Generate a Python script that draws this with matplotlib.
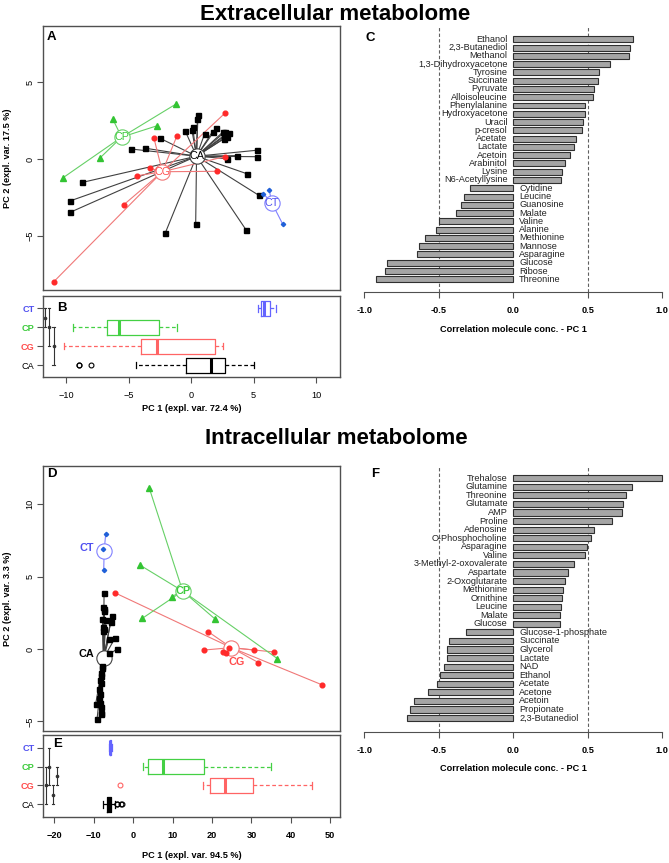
import matplotlib.pyplot as plt
import numpy as np

plt.rcParams['font.family'] = ['Liberation Sans', 'DejaVu Sans']

# ---- Extracellular PCA scores (PC1, PC2) ----
ca_ext_pc1 = [0.52, 0.47, 0.12, 0.07, -0.44, 1.01, 1.60, 1.88, 2.35, 2.54, 2.84, 2.44, 2.64, 2.44, -2.30,
              -4.44, -3.38, 4.89, 4.89, 3.38, 2.69, 4.15, 5.01, -8.05, -8.94, -8.94, -1.90, 0.35, 4.10]
ca_ext_pc2 = [2.89, 2.61, 2.09, 1.87, 1.85, 1.63, 1.78, 2.00, 1.74, 1.78, 1.70, 1.52, 1.43, 1.33, 1.35,
              0.65, 0.70, 0.57, 0.15, 0.22, 0.02, -0.96, -2.35, -1.52, -2.72, -3.46, -4.80, -4.22, -4.63]
cg_ext_pc1 = [2.52, -1.04, -2.74, 2.49, -3.06, -4.00, 1.90, -4.96, -10.17]
cg_ext_pc2 = [2.98, 1.50, 1.35, 0.15, -0.59, -1.09, -0.80, -2.96, -7.98]
cp_ext_pc1 = [-1.11, -5.78, -2.54, -6.77, -9.48]
cp_ext_pc2 = [3.57, 2.57, 2.15, 0.04, -1.22]
ct_ext_pc1 = [5.36, 5.80, 6.79]
ct_ext_pc2 = [-2.26, -2.02, -4.22]

# ---- Intracellular PCA scores ----
ca_int_pc1 = [-5.81, -5.97, -5.81, -5.73, -4.00, -6.21, -5.34, -4.24, -6.13, -5.73, -5.97, -3.22, -4.71,
              -2.75, -4.63, -6.29, -6.37, -6.44, -6.52, -6.76, -6.60, -6.90, -6.84, -7.07, -6.76, -7.78,
              -6.60, -6.60, -6.60, -7.46]
ca_int_pc2 = [3.89, 2.93, 2.74, 2.60, 2.26, 2.10, 2.00, 1.84, 1.54, 1.38, 1.24, 0.76, 0.67,
              0.00, -0.25, -1.18, -1.34, -1.64, -1.90, -2.14, -2.37, -2.75, -3.10, -3.41, -3.76, -3.80,
              -3.99, -4.40, -4.52, -4.84]
cg_int_pc1 = [-3.30, 18.70, 17.84, 22.32, 22.87, 23.73, 29.47, 34.26, 30.57, 45.50]
cg_int_pc2 = [3.89, 1.20, -0.07, -0.23, -0.28, 0.09, -0.07, -0.21, -0.94, -2.47]
cp_int_pc1 = [4.87, 2.59, 3.22, 10.14, 20.43, 35.05]
cp_int_pc2 = [11.10, 5.81, 2.12, 3.62, 2.05, -0.67]
ct_int_pc1 = [-5.42, -6.05, -5.89]
ct_int_pc2 = [7.97, 6.89, 5.46]

# significance brackets next to the boxplots: x, from group, to group
b_br_x = [-11.7, -11.36, -11.0]
b_br_from = [4, 4, 3]
b_br_to = [3, 2, 1]
e_br_x = [-22.2, -21.3, -20.3, -19.4]
e_br_from = [3, 4, 2, 3]
e_br_to = [1, 2, 1, 2]

# ---- Correlations with PC1 ----
ext_names = ['Ethanol', '2,3-Butanediol', 'Methanol', '1,3-Dihydroxyacetone', 'Tyrosine', 'Succinate',
             'Pyruvate', 'Alloisoleucine', 'Phenylalanine', 'Hydroxyacetone', 'Uracil', 'p-cresol',
             'Acetate', 'Lactate', 'Acetoin', 'Arabinitol', 'Lysine', 'N6-Acetyllysine', 'Cytidine',
             'Leucine', 'Guanosine', 'Malate', 'Valine', 'Alanine', 'Methionine', 'Mannose',
             'Asparagine', 'Glucose', 'Ribose', 'Threonine']
ext_corr = [0.805, 0.783, 0.779, 0.651, 0.577, 0.566, 0.539, 0.532, 0.479, 0.479, 0.468, 0.459,
            0.418, 0.407, 0.383, 0.345, 0.329, 0.318, -0.291, -0.333, -0.353, -0.387, -0.499, -0.517,
            -0.591, -0.633, -0.644, -0.850, -0.859, -0.924]
int_names = ['Trehalose', 'Glutamine', 'Threonine', 'Glutamate', 'AMP', 'Proline', 'Adenosine',
             'O-Phosphocholine', 'Asparagine', 'Valine', '3-Methyl-2-oxovalerate', 'Aspartate',
             '2-Oxoglutarate', 'Methionine', 'Ornithine', 'Leucine', 'Malate', 'Glucose',
             'Glucose-1-phosphate', 'Succinate', 'Glycerol', 'Lactate', 'NAD', 'Ethanol', 'Acetate',
             'Acetone', 'Acetoin', 'Propionate', '2,3-Butanediol']
int_corr = [1.0, 0.799, 0.754, 0.736, 0.732, 0.664, 0.544, 0.523, 0.497, 0.483, 0.409, 0.369,
            0.349, 0.336, 0.329, 0.318, 0.315, 0.315, -0.315, -0.434, -0.443, -0.445, -0.463, -0.494,
            -0.510, -0.573, -0.669, -0.691, -0.711]

groups = ['CA', 'CG', 'CP', 'CT']
ext = {'CA': (ca_ext_pc1, ca_ext_pc2), 'CG': (cg_ext_pc1, cg_ext_pc2),
       'CP': (cp_ext_pc1, cp_ext_pc2), 'CT': (ct_ext_pc1, ct_ext_pc2)}
intra = {'CA': (ca_int_pc1, ca_int_pc2), 'CG': (cg_int_pc1, cg_int_pc2),
         'CP': (cp_int_pc1, cp_int_pc2), 'CT': (ct_int_pc1, ct_int_pc2)}

pt_col = {'CA': 'black', 'CG': '#FF2A2A', 'CP': '#33C433', 'CT': '#2060D8'}
line_col = {'CA': '#404040', 'CG': '#F07878', 'CP': '#66D066', 'CT': '#8080FF'}
box_col = {'CA': 'black', 'CG': '#FF6464', 'CP': '#44D044', 'CT': '#6464FF'}
lab_col = {'CA': 'black', 'CG': '#FF4B4B', 'CP': '#3CCB3C', 'CT': '#5050F0'}
markers = {'CA': 's', 'CG': 'o', 'CP': '^', 'CT': 'D'}
msize = {'CA': 3.6, 'CG': 3.4, 'CP': 3.8, 'CT': 2.2}
spine_col = '#505050'

W, H = 669, 863
fig = plt.figure(figsize=(W / 100, H / 100), dpi=100)


def add_px(x0, y0, x1, y1):
    return fig.add_axes([x0 / W, 1 - y1 / H, (x1 - x0) / W, (y1 - y0) / H])


def frame(ax):
    for s in ax.spines.values():
        s.set_color(spine_col)
        s.set_linewidth(1.0)
    ax.tick_params(length=4, width=0.8, color=spine_col, labelsize=6.6, pad=2)


def spider(ax, data, offsets, bold):
    for g in groups:
        x, y = np.array(data[g][0]), np.array(data[g][1])
        cx, cy = x.mean(), y.mean()
        for xi, yi in zip(x, y):
            ax.plot([cx, xi], [cy, yi], color=line_col[g], lw=0.8, zorder=2)
        ax.plot(x, y, ls='none', marker=markers[g], ms=msize[g], color=pt_col[g], zorder=4)
        ax.plot(cx, cy, marker='o', ms=11, mfc='white', mec=line_col[g], mew=0.8, zorder=3)
        dx, dy, ha = offsets[g]
        ax.annotate(g, (cx, cy), xytext=(dx, dy), textcoords='offset points', ha=ha, va='center',
                    color=lab_col[g], fontsize=7.8, fontweight='bold' if bold else 'normal', zorder=5)
    ax.set_xticks([])
    frame(ax)
    ax.tick_params(axis='y', labelrotation=90)
    for t in ax.get_yticklabels():
        t.set_va('center')


def boxes(ax, data, brx, brf, brt, bold_ticks):
    for i, g in enumerate(groups):
        c = box_col[g]
        ax.boxplot(data[g][0], positions=[i + 1], orientation='horizontal', widths=0.8, capwidths=0.35,
                   boxprops=dict(color=c, lw=0.9), medianprops=dict(color=c, lw=2.2),
                   whiskerprops=dict(color=c, lw=0.9, ls=(0, (3, 2))), capprops=dict(color=c, lw=0.9),
                   flierprops=dict(marker='o', mfc='none', mec=c, ms=3.5, mew=0.8), manage_ticks=False)
    for x, a, b in zip(brx, brf, brt):
        ax.plot([x, x], [a, b], color='#333333', lw=0.8)
        for yy in (a, b):
            ax.plot([x - 0.004 * np.ptp(ax.get_xlim()), x + 0.004 * np.ptp(ax.get_xlim())], [yy, yy],
                    color='#333333', lw=0.8)
        ax.plot(x, (a + b) / 2, marker='o', ms=1.6, color='#333333')
    ax.set_ylim(0.34, 4.66)
    ax.set_yticks([1, 2, 3, 4])
    ax.set_yticklabels(groups)
    for t, g in zip(ax.get_yticklabels(), groups):
        t.set_color(lab_col[g])
        t.set_fontweight('normal' if g == 'CA' else 'bold')
        t.set_fontsize(7.5)
    frame(ax)
    ax.tick_params(axis='x', pad=6)
    if bold_ticks:
        for t in ax.get_xticklabels():
            t.set_fontweight('bold')


def bars(ax, names, vals):
    pos = np.arange(len(names))
    ax.barh(pos, vals, height=0.72, color='#A5A5A5', edgecolor='#303030', lw=0.8, zorder=2)
    for p, n, v in zip(pos, names, vals):
        if v >= 0:
            ax.text(-0.038, p, n, ha='right', va='center', fontsize=6.6, color='#222222', zorder=3)
        else:
            ax.text(0.04, p, n, ha='left', va='center', fontsize=6.6, color='#222222', zorder=3)
    for v in (-0.5, 0.5):
        ax.axvline(v, color='#606060', lw=0.8, ls=(0, (3, 2)), zorder=1)
    ax.set_xlim(-1.04, 1.04)
    for s in ('top', 'left', 'right'):
        ax.spines[s].set_visible(False)
    ax.spines['bottom'].set_bounds(-1, 1)
    ax.spines['bottom'].set_color(spine_col)
    ax.set_yticks([])
    ax.set_xticks([-1, -0.5, 0, 0.5, 1])
    ax.set_xticklabels(['-1.0', '-0.5', '0.0', '0.5', '1.0'], fontweight='bold')
    ax.tick_params(axis='x', length=4, width=0.8, color=spine_col, labelsize=6.6, pad=6)
    ax.set_xlabel('Correlation molecule conc. - PC 1', fontsize=6.6, fontweight='bold')


# ---- A ----
axA = add_px(43, 26, 340, 290)
spider(axA, ext, {'CA': (0, 0, 'center'), 'CG': (0, 0, 'center'), 'CP': (0, 0, 'center'),
                  'CT': (0, 0, 'center')}, bold=False)
axA.set_xlim(-10.96, 11.04)
axA.set_ylim(-8.51, 8.64)
axA.set_yticks([-5, 0, 5])
axA.set_ylabel('PC 2 (expl. var. 17.5 %)', fontsize=6.6, fontweight='bold')
axA.yaxis.set_label_coords(-0.105, 0.5)

# ---- B ----
axB = add_px(43, 296, 340, 377.5)
axB.set_xlim(-11.85, 11.9)
boxes(axB, ext, b_br_x, b_br_from, b_br_to, bold_ticks=False)
axB.set_xticks([-10, -5, 0, 5, 10])
axB.set_xlabel('PC 1 (expl. var. 72.4 %)', fontsize=6.6, fontweight='bold')
axB.xaxis.set_label_coords(0.5, -0.33)

# ---- C ----
axC = add_px(358.3, 26, 668.3, 291.7)
bars(axC, ext_names, ext_corr)
axC.set_ylim(len(ext_names) - 1 + 1.5, -1.61)
axC.xaxis.set_label_coords(0.5, -0.125)

# ---- D ----
axD = add_px(43, 465.7, 340, 731)
spider(axD, intra, {'CA': (-7, 3, 'right'), 'CG': (4, -10, 'center'), 'CP': (0, 0, 'center'),
                    'CT': (-7, 2, 'right')}, bold=True)
axD.set_xlim(-20.2, 49.8)
axD.set_ylim(-5.67, 12.67)
axD.set_yticks([-5, 0, 5, 10])
axD.set_ylabel('PC 2 (expl. var. 3.3 %)', fontsize=6.6, fontweight='bold')
axD.yaxis.set_label_coords(-0.105, 0.5)

# ---- E ----
axE = add_px(43, 735, 340, 817)
axE.set_xlim(-22.9, 52.5)
axE.set_xticks([-20, -10, 0, 10, 20, 30, 40, 50])
boxes(axE, intra, e_br_x, e_br_from, e_br_to, bold_ticks=True)
axE.set_xlabel('PC 1 (expl. var. 94.5 %)', fontsize=6.6, fontweight='bold')
axE.xaxis.set_label_coords(0.5, -0.42)

# ---- F ----
axF = add_px(358.3, 465.7, 668.3, 732.3)
bars(axF, int_names, int_corr)
axF.set_ylim(len(int_names) - 1 + 1.67, -1.47)
axF.xaxis.set_label_coords(0.5, -0.12)

# titles and panel letters
fig.text(335.5 / W, 1 - 14.5 / H, 'Extracellular metabolome', ha='center', va='center',
         fontsize=16, fontweight='bold')
fig.text(336.5 / W, 1 - 438 / H, 'Intracellular metabolome', ha='center', va='center',
         fontsize=16, fontweight='bold')
for letter, x, y in [('A', 47, 31), ('B', 57, 302), ('C', 366, 32), ('D', 47, 468),
                     ('E', 53, 738), ('F', 371, 468)]:
    fig.text(x / W, 1 - y / H, letter, ha='left', va='top', fontsize=9.5, fontweight='bold')

fig.savefig('out.png', dpi=100)
